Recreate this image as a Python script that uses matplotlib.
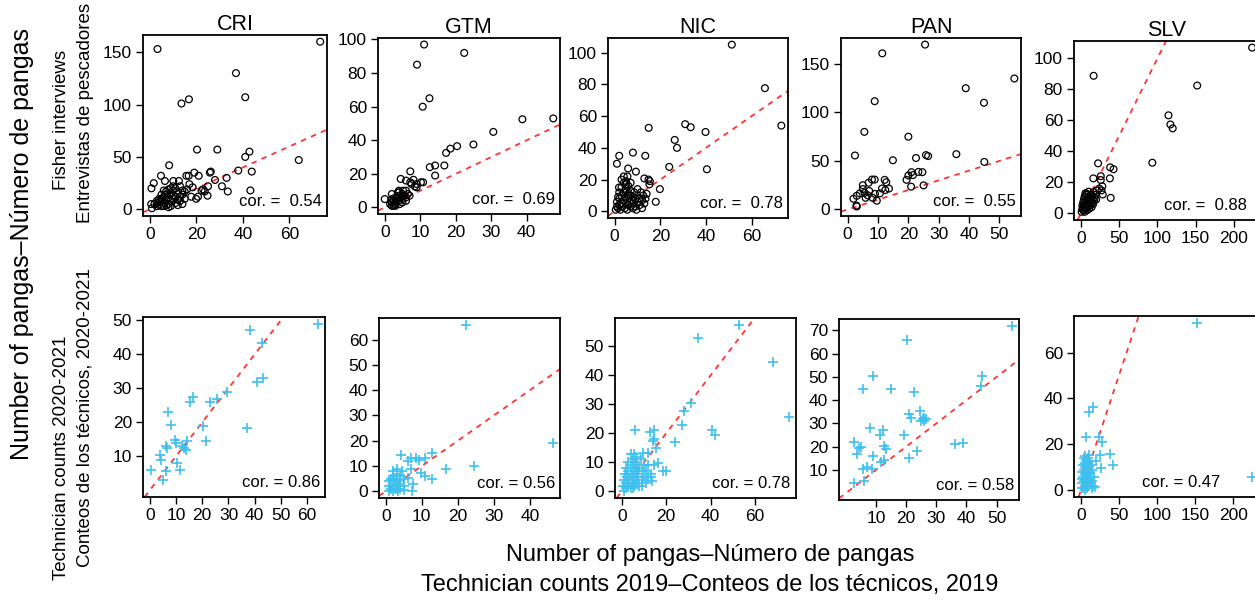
import numpy as np
import matplotlib
matplotlib.use("Agg")
import matplotlib.pyplot as plt

plt.rcParams['font.family'] = ['Liberation Sans', 'DejaVu Sans']

countries = ['CRI', 'GTM', 'NIC', 'PAN', 'SLV']

# top row: technician counts 2019 (x) vs fisher interviews (y)
cri_top = [(3.3, 153), (73.2, 160), (37, 130), (41, 107), (13.6, 101), (16.8, 105), (20.3, 57), (29, 57),
           (64, 47), (41, 50), (42.8, 55), (43.8, 36), (43.2, 18), (38, 37), (33, 30), (33.5, 17), (31, 22),
           (28, 28), (25.8, 35), (26.2, 36), (8.3, 42), (0.7, 20), (1.7, 25), (4.8, 32), (6.5, 27), (10.1, 27),
           (12.5, 27), (15.7, 32), (16.7, 32), (19.1, 35), (21, 32), (17, 24), (18.4, 21), (17.8, 12), (19.9, 10),
           (20.7, 12), (22.2, 18), (22.9, 19), (23.6, 17), (24.8, 13), (25, 22), (0.6, 5), (0.9, 1),
           (2, 5), (3, 8), (3, 6), (4, 4), (4, 7), (5, 3), (5, 8), (5, 10), (6, 6), (6, 12), (7, 9), (7, 14),
           (7, 17), (8, 5), (8, 11), (8, 19), (9, 8), (9, 15), (9, 20), (10, 10), (10, 13), (10, 18), (11, 6),
           (11, 20), (12, 9), (12, 15), (13, 12), (13, 22), (14, 5), (14, 18), (15, 10), (15, 17), (6, 3), (7, 4),
           (8, 2), (3, 3), (4, 10), (5, 14), (6, 18), (9, 3), (10, 22), (11, 12), (12, 4), (13, 8), (14, 14), (16, 19)]
gtm_top = [(11.1, 97), (22.4, 92), (9.1, 85), (12.6, 65), (10.7, 60), (38.8, 52.5), (47.5, 53), (30.6, 45),
           (25, 37.5), (20.4, 36.5), (18.5, 35), (17.3, 32.5), (16.8, 25), (14.2, 25), (12.7, 24), (14.2, 19),
           (7.2, 21.5), (4.5, 17), (6, 16), (7.2, 15), (8.1, 16.5), (10.2, 15), (10.8, 15), (9, 14), (9, 12),
           (8.5, 12.5), (0, 5), (1.5, 2), (2, 3), (2, 5), (2, 8), (2.5, 1), (2.5, 4), (3, 2), (3, 6), (3, 3),
           (3.5, 5), (4, 4), (4, 7), (4, 9), (4, 10), (4.5, 6), (5, 3), (5, 8), (5, 5), (5.5, 7), (6, 10), (6, 6),
           (6.5, 8), (7, 7), (3, 1), (2, 1), (1.8, 4), (4.2, 2), (5.2, 10), (6, 4), (7.5, 14), (3.7, 9)]
nic_top = [(51.3, 105), (65.8, 77.6), (73, 54), (14.9, 52.6), (30.9, 54.9), (33.3, 53), (39.8, 50), (26.3, 45),
           (27.3, 40), (40.4, 26.5), (23.9, 28), (1, 30), (2, 35), (8, 37), (13.4, 35), (5.9, 27), (9.3, 25),
           (5.6, 22), (13, 20.7), (14.8, 20), (15.4, 19), (15.2, 17), (19.8, 14), (18, 6), (1.9, 15),
           (0.5, 1), (1, 3), (1, 6), (1.5, 2), (2, 4), (2, 8), (2, 12), (2.5, 1), (3, 5), (3, 10), (3, 15),
           (3.5, 3), (4, 7), (4, 12), (4, 18), (4.5, 2), (5, 5), (5, 9), (5, 14), (5, 17), (5.5, 1), (6, 4),
           (6, 8), (6, 11), (6, 16), (6.5, 6), (7, 3), (7, 10), (7, 13), (7.5, 7), (8, 2), (8, 5), (8, 9),
           (8.5, 12), (9, 3), (9, 8), (9.5, 1), (10, 6), (10, 10), (10, 14), (11, 4), (11, 8), (11.5, 12),
           (12, 2), (12, 7), (12.5, 10), (13, 5), (13.5, 8), (14, 11), (3, 20), (4, 22), (5, 19), (1.5, 9), (7, 18)]
pan_top = [(25.5, 170), (11.4, 161), (54.9, 135), (38.9, 125), (44.9, 110), (8.9, 111.6), (5.5, 80), (20, 75),
           (2.4, 55.6), (14.9, 50.7), (22.5, 53), (25.8, 56), (26.5, 55), (35.8, 57), (45, 49), (19.4, 30.5),
           (20, 35), (21, 38.4), (21.5, 35.4), (23.3, 38.7), (24.6, 38.4), (20.9, 23.5), (25, 24.8), (12.2, 30.5),
           (12.7, 28), (13.6, 21.5), (12.4, 20), (11.3, 21.5), (8.9, 30.8), (8, 30.8), (6.9, 27.5), (7.1, 19),
           (5, 25), (5, 21), (4, 16.5), (3, 14), (1.9, 11), (5.9, 12), (8.2, 12), (9, 16), (9.6, 9), (10.6, 16.5),
           (2.9, 4), (3, 3), (5.6, 17), (6.6, 14.5)]
slv_top = [(223.8, 107), (152, 82.5), (114.5, 63.3), (117, 57.4), (120, 54.9), (16.7, 88.8), (93.4, 32.7),
           (22.5, 32.3), (38.3, 29.7), (42.7, 28.5), (37.9, 22.6), (39, 10), (16.3, 22.6), (26, 24), (26, 21.5),
           (28, 17.5), (27, 14.8), (28.6, 12.2), (24, 16), (20.7, 14.8), (16.3, 13.7), (7.5, 12.7),
           (1, 1), (2, 3), (2, 5), (3, 2), (3, 7), (4, 4), (4, 9), (5, 1), (5, 6), (5, 11), (6, 3), (6, 8),
           (7, 5), (7, 10), (8, 2), (8, 7), (8, 12), (9, 4), (9, 9), (10, 6), (10, 11), (11, 3), (11, 8), (12, 5),
           (12, 10), (13, 7), (13, 12), (14, 4), (14, 9), (15, 11), (16, 6), (17, 8), (18, 10), (19, 12), (20, 9),
           (6, 13), (10, 14), (3, 4), (4, 2), (15, 7)]

# bottom row: technician counts 2019 (x) vs technician counts 2020-2021 (y)
cri_bot = [(64.2, 49), (38.1, 47.1), (42.7, 43.2), (43.3, 33.1), (41, 31.9), (29.4, 29), (25.6, 26.9),
           (22.8, 26), (16.5, 27.4), (15.4, 26), (7, 23), (8, 19.1), (20.1, 18.9), (37, 18.2), (21.6, 14.5),
           (9.5, 14.9), (10.1, 14), (14.2, 14.6), (12.3, 13), (13.2, 12.4), (14, 12), (6.3, 13), (6.6, 12.4),
           (3.8, 10.4), (4.3, 9), (10.4, 8), (11.6, 6), (6.3, 5.8), (0.3, 6), (4.9, 3)]
gtm_bot = [(22.3, 65.9), (24.5, 10), (46.5, 19), (16.7, 9), (12.9, 15), (12.9, 5), (10.9, 13.3), (9.9, 7.4),
           (11, 6), (9.3, 12.2), (8.3, 13.3), (7.1, 13.3), (7.1, 9), (7.5, 2.8), (7.3, 0), (6.3, 12), (4.3, 14.3),
           (6.1, 5.4), (5, 0.4), (1, 0), (1, 2), (1, 4), (1.5, 1), (1.5, 5), (2, 0), (2, 3), (2, 6), (2, 8),
           (2.5, 1), (2.5, 4), (3, 2), (3, 5), (3, 7), (3, 9), (3.5, 0), (3.5, 3), (4, 6), (4, 1), (4, 4),
           (4.5, 8), (5, 2), (5, 5), (2, 5), (3, 1)]
nic_bot = [(52.7, 57.5), (34.5, 53), (68, 44.5), (75.4, 25.8), (31.2, 30.4), (28.2, 27.6), (27.2, 23), (24, 17),
           (40.7, 21.3), (41.8, 19.6), (14.4, 21.3), (12.8, 20.4), (14.7, 18.1), (14, 17.3), (15.5, 15), (6, 21),
           (9.8, 13.3), (11.7, 13.3), (20, 7), (18.5, 7), (16.2, 9.7), (14.4, 9.1), (13.7, 3.4), (13.2, 5),
           (0.5, 2), (1, 0), (1, 4), (1.5, 6), (2, 1), (2, 3), (2, 8), (2.5, 5), (3, 2), (3, 7), (3.5, 4), (4, 1),
           (4, 6), (4, 9), (4.5, 3), (5, 5), (5, 8), (5, 11), (5.5, 2), (5.5, 13), (6, 4), (6, 7), (6, 10),
           (6.5, 12), (7, 3), (7, 6), (7, 9), (7.5, 5), (8, 2), (8, 8), (8.5, 11), (9, 4), (9, 7), (10, 5),
           (10, 9), (11, 3), (11, 7), (12, 5), (12, 9), (13, 6), (4, 13), (5, 1), (3, 10), (9, 2)]
pan_bot = [(55.2, 72), (20.2, 66), (9, 50.5), (45, 50.5), (44.8, 46), (5.7, 45), (15.1, 45), (22.5, 43.5),
           (24.5, 35.3), (20.9, 34.2), (21.5, 32.3), (25, 31.2), (25.8, 32.3), (26.6, 31.9), (26.1, 30.9),
           (25.6, 31.9), (7.9, 28), (12.4, 27), (11.4, 25), (19.4, 25), (2.8, 22), (4.3, 19.6), (5, 20),
           (3.9, 17), (12.8, 20.3), (13.3, 19), (8.9, 16), (23.5, 18), (21.1, 15), (36.1, 21), (39, 21.5),
           (11.6, 13.4), (12.6, 14.3), (7.1, 11.3), (5.9, 10.3), (8.8, 10.3), (6.1, 5.2), (2.8, 4.5)]
slv_bot = [(152, 73), (224.8, 6), (16.4, 36.2), (11, 34), (6.7, 23.2), (24.4, 23), (28, 21), (38.6, 15.8),
           (25.7, 15.2), (42, 11.2), (26.6, 9.7), (20, 12.7), (19, 1.3), (11, 15.5),
           (1, 1), (1, 5), (2, 3), (2, 8), (3, 1), (3, 6), (3, 11), (4, 4), (4, 9), (4, 14), (5, 2), (5, 7),
           (5, 12), (6, 0), (6, 5), (6, 10), (6, 15), (7, 3), (7, 8), (7, 13), (8, 1), (8, 6), (8, 11), (9, 4),
           (9, 9), (9, 14), (10, 2), (10, 7), (10, 12), (11, 5), (11, 10), (12, 3), (12, 8), (13, 6), (14, 1),
           (14, 11), (15, 4), (15, 9), (16, 2), (17, 6)]

top_data = [cri_top, gtm_top, nic_top, pan_top, slv_top]
bot_data = [cri_bot, gtm_bot, nic_bot, pan_bot, slv_bot]
top_cor = ['0.54', '0.69', '0.78', '0.55', '0.88']
bot_cor = ['0.86', '0.56', '0.78', '0.58', '0.47']

top_xticks = [[0, 20, 40, 60], [0, 10, 20, 30, 40], [0, 20, 40, 60], [0, 10, 20, 30, 40, 50], [0, 50, 100, 150, 200]]
top_yticks = [[0, 50, 100, 150], [0, 20, 40, 60, 80, 100], [0, 20, 40, 60, 80, 100], [0, 50, 100, 150],
              [0, 20, 40, 60, 80, 100]]
bot_xticks = [[0, 10, 20, 30, 40, 50, 60], [0, 10, 20, 30, 40], [0, 20, 40, 60], [10, 20, 30, 40, 50],
              [0, 50, 100, 150, 200]]
bot_yticks = [[10, 20, 30, 40, 50], [0, 10, 20, 30, 40, 50, 60], [0, 10, 20, 30, 40, 50],
              [10, 20, 30, 40, 50, 60, 70], [0, 20, 40, 60]]

W, H = 1255, 603
fig = plt.figure(figsize=(W / 100, H / 100), dpi=100)


def rect(l, t, r, b):
    return [l / W, 1 - b / H, (r - l) / W, (b - t) / H]


# panel frames in pixels (left, top, right, bottom); SLV runs past the right edge
top_boxes = [(143, 35, 327, 216), (378, 38, 560, 214), (608, 38, 788, 218), (841, 38, 1021, 216),
             (1074, 41, 1259, 220)]
bot_boxes = [(143, 317, 325, 497), (379, 318, 560, 498), (615, 318, 796, 498), (839, 319, 1019, 500),
             (1074, 316, 1259, 497)]
# right end of the "cor." label, pixels
top_cor_px = [322, 555, 783, 1016, 1247]
bot_cor_px = [320, 555, 790, 1014, 1220]


def panel(box, pts, xt, yt, cor, cor_px, top):
    ax = fig.add_axes(rect(*box))
    x, y = np.array(pts, dtype=float).T
    if top:
        ax.scatter(x, y, s=24, facecolors='none', edgecolors='black', linewidths=0.9, zorder=3)
        label = 'cor. =  ' + cor
    else:
        ax.scatter(x, y, s=60, marker='+', color='#3ec0ef', linewidths=1.2, zorder=3)
        label = 'cor. = ' + cor
    ax.margins(0.04)
    ax.axline((0, 0), slope=1, color='#ff3333', ls=(0, (3, 3)), lw=1.3, zorder=2)
    ax.set_xticks(xt)
    ax.set_yticks(yt)
    ax.tick_params(direction='out', length=5, width=1, labelsize=12.5, pad=3)
    for s in ax.spines.values():
        s.set_linewidth(1.3)
    fx = (cor_px - box[0]) / (box[2] - box[0])
    ax.text(fx, 0.04, label, transform=ax.transAxes, ha='right', va='bottom', fontsize=12)
    return ax


for i in range(5):
    ax = panel(top_boxes[i], top_data[i], top_xticks[i], top_yticks[i], top_cor[i], top_cor_px[i], True)
    ax.set_title(countries[i], fontsize=15.5, pad=3)
    panel(bot_boxes[i], bot_data[i], bot_xticks[i], bot_yticks[i], bot_cor[i], bot_cor_px[i], False)

fig.text(22 / W, 1 - 244 / H, 'Number of pangas\u2013N\u00famero de pangas', rotation=90,
         ha='center', va='center', fontsize=18)
fig.text(62 / W, 1 - 120 / H, 'Fisher interviews', rotation=90, ha='center', va='center', fontsize=13.5)
fig.text(85 / W, 1 - 113 / H, 'Entrevistas de pescadores', rotation=90, ha='center', va='center', fontsize=13.5)
fig.text(62 / W, 1 - 458 / H, 'Technician counts 2020-2021', rotation=90, ha='center', va='center', fontsize=13.5)
fig.text(85 / W, 1 - 418 / H, 'Conteos de los t\u00e9cnicos, 2020-2021', rotation=90, ha='center', va='center',
         fontsize=13.5)
fig.text(710 / W, 1 - 555 / H, 'Number of pangas\u2013N\u00famero de pangas', ha='center', va='center', fontsize=17)
fig.text(710 / W, 1 - 585 / H, 'Technician counts 2019\u2013Conteos de los t\u00e9cnicos, 2019', ha='center',
         va='center', fontsize=17)

fig.savefig('out.png', dpi=100)
